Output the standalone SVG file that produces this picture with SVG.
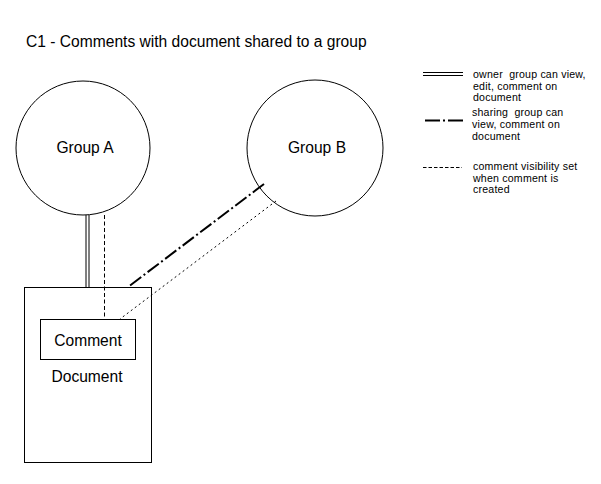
<svg xmlns="http://www.w3.org/2000/svg" width="601" height="484" viewBox="0 0 601 484">
<style>
text{font-family:"Liberation Sans",Arial,sans-serif;fill:#000}
.big{font-size:15.6px}
.leg{font-size:10.6px;letter-spacing:0.2px}
.shape{fill:#fff;stroke:#000;stroke-width:1}
.owner{stroke:#000;stroke-width:1;fill:none}
.share{stroke:#000;stroke-width:2;fill:none;stroke-dasharray:14 3 2 3}
.vis{stroke:#000;stroke-width:1;fill:none;stroke-dasharray:4 2.5}
.vis2{stroke:#000;stroke-width:1;fill:none;stroke-dasharray:2 3}
</style>
<rect width="601" height="484" fill="#fff"/>
<text class="big" x="26" y="47">C1 - Comments with document shared to a group</text>
<g id="groupA">
<circle class="shape" cx="83" cy="148" r="67"/>
<text class="big" x="85" y="153" text-anchor="middle">Group A</text>
</g>
<g id="groupB">
<circle class="shape" cx="315" cy="148" r="68"/>
<text class="big" x="317" y="153" text-anchor="middle">Group B</text>
</g>
<g id="document">
<rect class="shape" x="24.5" y="287.5" width="127" height="175"/>
<text class="big" x="87" y="382" text-anchor="middle">Document</text>
</g>
<g id="comment">
<rect class="shape" x="40.5" y="319.5" width="95" height="40"/>
<text class="big" x="88" y="346" text-anchor="middle">Comment</text>
</g>
<g id="connectors">
<line class="owner" x1="86" y1="215" x2="86" y2="287"/>
<line class="owner" x1="89" y1="215" x2="89" y2="287"/>
<line class="vis" x1="104.5" y1="215" x2="104.5" y2="319"/>
<line class="share" x1="264" y1="184" x2="128" y2="287"/>
<line class="vis2" x1="276" y1="201" x2="120" y2="319"/>
</g>
<g id="legend">
<line class="owner" x1="423" y1="72.5" x2="463" y2="72.5"/>
<line class="owner" x1="423" y1="75.5" x2="463" y2="75.5"/>
<text class="leg" x="473" y="77.5" xml:space="preserve">owner  group can view,</text>
<text class="leg" x="473" y="89.5">edit, comment on</text>
<text class="leg" x="473" y="101">document</text>
<line class="share" x1="425" y1="120.5" x2="463" y2="120.5" style="stroke-dasharray:15 3 2 3"/>
<text class="leg" x="472" y="115.5" xml:space="preserve">sharing  group can</text>
<text class="leg" x="472" y="127.5">view, comment on</text>
<text class="leg" x="472" y="139.5">document</text>
<line class="vis" x1="423" y1="167.5" x2="462" y2="167.5" style="stroke-dasharray:3.5 2"/>
<text class="leg" x="473" y="170">comment visibility set</text>
<text class="leg" x="473" y="181.5">when comment is</text>
<text class="leg" x="473" y="193">created</text>
</g>
</svg>
